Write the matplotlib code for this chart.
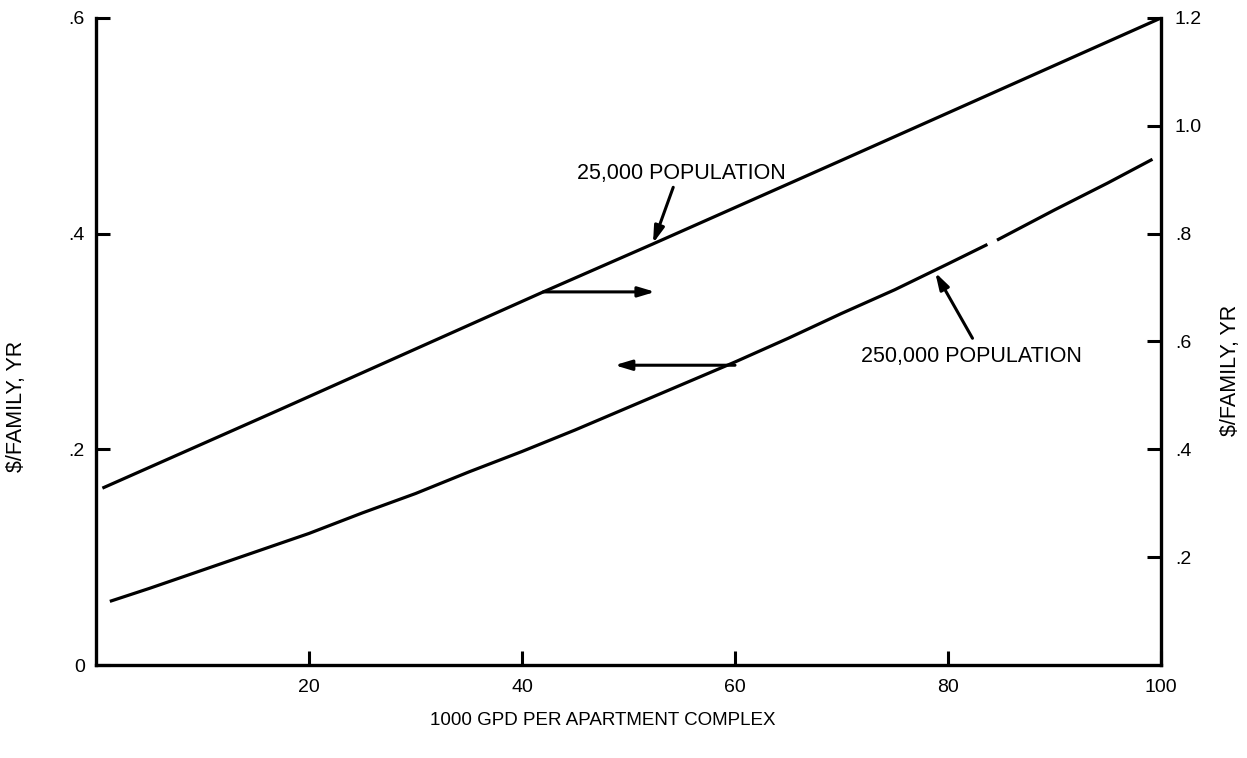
import matplotlib
matplotlib.use("Agg")
import matplotlib.pyplot as plt

plt.rcParams['font.family'] = ['Liberation Sans', 'DejaVu Sans']

# 25,000 population curve (read on right axis, $/family-yr)
x_25k = [0.6, 17.3, 42.0, 52.3, 70.0, 100.0]
y_25k = [0.328, 0.474, 0.692, 0.781, 0.936, 1.20]

# 250,000 population curve (read on left axis, $/family-yr), drawn with a small break
x_250k_a = [1.3, 5, 10, 15, 20, 25, 30, 35, 40, 45, 50, 55, 60, 65, 70, 75, 80, 83.7]
y_250k_a = [0.059, 0.071, 0.088, 0.105, 0.122, 0.141, 0.159, 0.179, 0.198, 0.218,
            0.239, 0.260, 0.281, 0.303, 0.326, 0.348, 0.372, 0.390]
x_250k_b = [84.6, 90, 95, 99.2]
y_250k_b = [0.394, 0.422, 0.447, 0.469]

left_ticks = [0, 0.2, 0.4, 0.6]
left_labels = ['0', '.2', '.4', '.6']
right_ticks = [0.2, 0.4, 0.6, 0.8, 1.0, 1.2]
right_labels = ['.2', '.4', '.6', '.8', '1.0', '1.2']
x_ticks = [20, 40, 60, 80, 100]
x_labels = ['20', '40', '60', '80', '100']

fig = plt.figure(figsize=(12.47, 7.58), dpi=100)
ax = fig.add_axes([96/1247, 1-665/758, (1161-96)/1247, (665-18)/758])
ax2 = ax.twinx()

lw = 2.3
ax.plot(x_250k_a, y_250k_a, color='black', lw=lw, solid_capstyle='butt')
ax.plot(x_250k_b, y_250k_b, color='black', lw=lw, solid_capstyle='butt')
ax2.plot(x_25k, y_25k, color='black', lw=lw, solid_capstyle='butt')

ax.set_xlim(0, 100)
ax.set_ylim(0, 0.6)
ax2.set_ylim(0, 1.2)

ax.set_xticks(x_ticks)
ax.set_xticklabels(x_labels)
ax.set_yticks(left_ticks)
ax.set_yticklabels(left_labels)
ax2.set_yticks(right_ticks)
ax2.set_yticklabels(right_labels)

for a in (ax, ax2):
    a.spines['top'].set_visible(False)
    for s in a.spines.values():
        s.set_linewidth(2.4)
ax.spines['right'].set_visible(False)
ax2.spines['left'].set_visible(False)
ax2.spines['bottom'].set_visible(False)

ax.tick_params(axis='x', direction='in', length=10, width=2.2, labelsize=14, pad=10)
ax.tick_params(axis='y', direction='in', length=10, width=2.2, labelsize=14, pad=8)
ax2.tick_params(axis='y', direction='in', length=10, width=2.2, labelsize=14, pad=10)

ax.set_xlabel('1000 GPD PER APARTMENT COMPLEX', fontsize=13.5)
ax.xaxis.set_label_coords(0.476, -0.073)
ax.set_ylabel('$/FAMILY, YR', fontsize=15.5)
ax.yaxis.set_label_coords(-0.065, 0.40)
ax2.set_ylabel('$/FAMILY, YR', fontsize=15.5)
ax2.yaxis.set_label_coords(1.055, 0.456)

arrow_kw = dict(arrowstyle='-|>,head_length=1.0,head_width=0.3', color='black', lw=2.2,
                shrinkA=0, shrinkB=0)

# direction arrows (which axis each curve is read on)
ax.annotate('', xy=(52.5, 0.346), xytext=(42.0, 0.346), arrowprops=arrow_kw)
ax.annotate('', xy=(48.7, 0.278), xytext=(60.0, 0.278), arrowprops=arrow_kw)

# curve labels
ax.text(55.0, 0.456, '25,000 POPULATION', ha='center', va='center', fontsize=15.5)
ax.annotate('', xy=(52.3, 0.391), xytext=(54.2, 0.443), arrowprops=arrow_kw)
ax.text(82.2, 0.2857, '250,000 POPULATION', ha='center', va='center', fontsize=15.5)
ax.annotate('', xy=(78.8, 0.364), xytext=(82.3, 0.303), arrowprops=arrow_kw)

fig.savefig('out.png', dpi=100)
